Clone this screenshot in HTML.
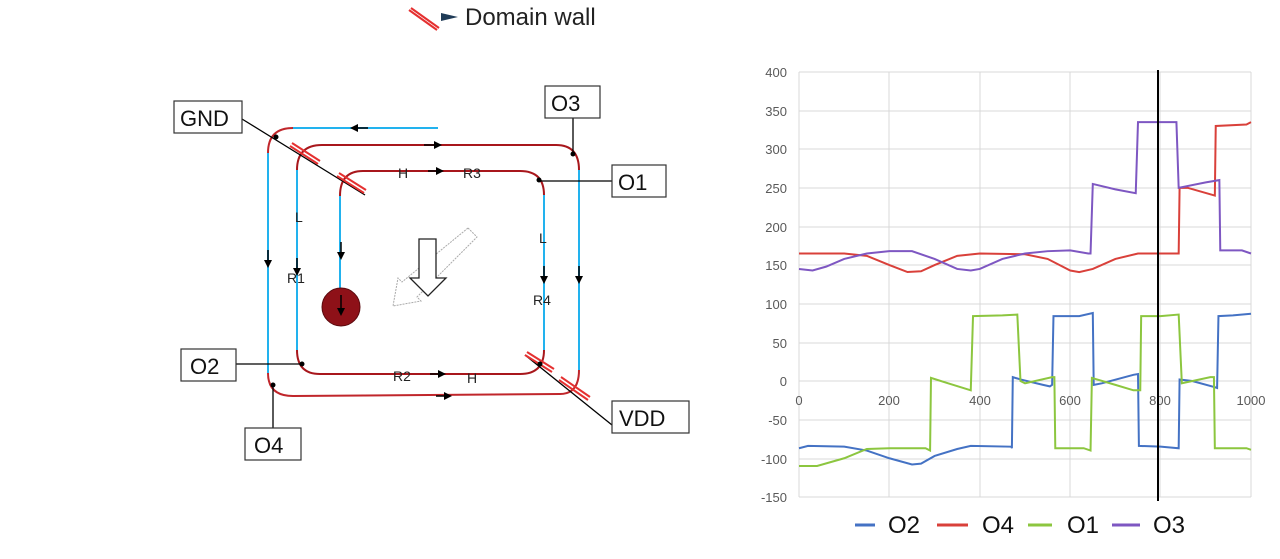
<!DOCTYPE html>
<html><head><meta charset="utf-8"><style>
body{margin:0;background:#fff;}
svg{display:block;font-family:"Liberation Sans",sans-serif;}
</style></head><body>
<svg width="1280" height="559" viewBox="0 0 1280 559">
<defs>
<marker id="ah" markerWidth="8" markerHeight="8" refX="4" refY="4" orient="auto" markerUnits="userSpaceOnUse"><path d="M0,0 L8,4 L0,8 z" fill="#000"/></marker>
</defs>
<line x1="409" y1="10" x2="437" y2="30" stroke="#e53030" stroke-width="2"/>
<line x1="411" y1="8" x2="439" y2="28" stroke="#e53030" stroke-width="2"/>
<path d="M441,13 L458,17 L441,21 z" fill="#1f3b57"/>
<text x="465" y="25" font-size="24" fill="#222">Domain wall</text>

<g fill="none" stroke-width="2">
<path d="M438,128 L293,128" stroke="#22b2ee"/>
<path d="M293,128 Q268,128 268,153" stroke="#c0262b"/>
<path d="M268,153 L268,373" stroke="#22b2ee"/>
<path d="M268,373 Q268,396 293,396 L560,394 Q579,394 579,370" stroke="#c0262b"/>
<path d="M579,370 L579,170" stroke="#22b2ee"/>
<path d="M579,170 Q579,145 556,145 L322,145 Q297,145 297,170" stroke="#a8171c"/>
<path d="M297,170 L297,350" stroke="#22b2ee"/>
<path d="M297,350 Q297,374 320,374 L520,374 Q544,374 544,350" stroke="#a8171c"/>
<path d="M544,350 L544,195" stroke="#22b2ee"/>
<path d="M544,195 Q544,171 520,171 L363,171 Q340,171 340,196" stroke="#a8171c"/>
<path d="M340,196 L340,288" stroke="#22b2ee"/>
</g>
<g stroke="#000" stroke-width="1.5" marker-end="url(#ah)">
<line x1="368" y1="128" x2="354" y2="128"/>
<line x1="268" y1="250" x2="268" y2="264"/>
<line x1="297" y1="258" x2="297" y2="272"/>
<line x1="341" y1="242" x2="341" y2="256"/>
<line x1="544" y1="266" x2="544" y2="280"/>
<line x1="579" y1="266" x2="579" y2="280"/>
<line x1="424" y1="145" x2="438" y2="145"/>
<line x1="428" y1="171" x2="440" y2="171"/>
<line x1="430" y1="374" x2="442" y2="374"/>
<line x1="436" y1="396" x2="448" y2="396"/>
</g>
<circle cx="341" cy="307" r="19" fill="#8e1118" stroke="#5a0a0e" stroke-width="1"/>
<line x1="341" y1="295" x2="341" y2="312" stroke="#000" stroke-width="1.5" marker-end="url(#ah)"/>
<path d="M468,228 L477,237 L417,297 L421,301 L393,306 L398,278 L402,282 Z" fill="none" stroke="#aaa" stroke-width="1" stroke-dasharray="2,1"/>
<path d="M419,239 L436,239 L436,278 L446,278 L428,296 L410,278 L419,278 Z" fill="#fff" stroke="#222" stroke-width="1.3"/>
<g font-size="14" fill="#222">
<text x="398" y="178">H</text><text x="463" y="178">R3</text>
<text x="295" y="222">L</text><text x="287" y="283">R1</text>
<text x="539" y="243">L</text><text x="533" y="305">R4</text>
<text x="393" y="381">R2</text><text x="467" y="383">H</text>
</g>
<g stroke="#000" stroke-width="1.3">
<line x1="242" y1="119" x2="365" y2="195"/>
<line x1="525" y1="355" x2="612" y2="425"/>
<line x1="573" y1="116" x2="573" y2="154"/>
<line x1="612" y1="181" x2="539" y2="181"/>
<line x1="236" y1="364" x2="302" y2="364"/>
<line x1="273" y1="428" x2="273" y2="385"/>
</g>
<g stroke="#e53030" stroke-width="2">
<line x1="290" y1="146" x2="318" y2="164"/><line x1="292" y1="143" x2="320" y2="161"/>
<line x1="337" y1="176" x2="364" y2="193"/><line x1="339" y1="173" x2="366" y2="190"/>
<line x1="525" y1="355" x2="552" y2="372"/><line x1="527" y1="352" x2="554" y2="369"/>
<line x1="559" y1="380" x2="588" y2="400"/><line x1="561" y1="377" x2="590" y2="397"/>
</g>
<g fill="#000">
<circle cx="276" cy="137" r="2.5"/><circle cx="573" cy="154" r="2.5"/><circle cx="539" cy="180" r="2.5"/>
<circle cx="302" cy="364" r="2.5"/><circle cx="273" cy="385" r="2.5"/><circle cx="540" cy="364" r="2.5"/>
</g>
<g fill="#fff" stroke="#333" stroke-width="1.2">
<rect x="174" y="101" width="68" height="32"/><rect x="545" y="86" width="55" height="32"/>
<rect x="612" y="165" width="54" height="32"/><rect x="181" y="349" width="55" height="32"/>
<rect x="245" y="428" width="56" height="32"/><rect x="612" y="401" width="77" height="32"/>
</g>
<g font-size="22" fill="#111">
<text x="180" y="126">GND</text><text x="551" y="111">O3</text><text x="618" y="190">O1</text>
<text x="190" y="374">O2</text><text x="254" y="453">O4</text><text x="619" y="426">VDD</text>
</g>

<g stroke="#d9d9d9" stroke-width="1">
<line x1="799" y1="72" x2="1251" y2="72"/><line x1="799" y1="111" x2="1251" y2="111"/>
<line x1="799" y1="149" x2="1251" y2="149"/><line x1="799" y1="188" x2="1251" y2="188"/>
<line x1="799" y1="227" x2="1251" y2="227"/><line x1="799" y1="265" x2="1251" y2="265"/>
<line x1="799" y1="304" x2="1251" y2="304"/><line x1="799" y1="343" x2="1251" y2="343"/>
<line x1="799" y1="381" x2="1251" y2="381"/><line x1="799" y1="420" x2="1251" y2="420"/>
<line x1="799" y1="459" x2="1251" y2="459"/><line x1="799" y1="497" x2="1251" y2="497"/>
<line x1="799" y1="72" x2="799" y2="497"/><line x1="889" y1="72" x2="889" y2="497"/>
<line x1="980" y1="72" x2="980" y2="497"/><line x1="1070" y1="72" x2="1070" y2="497"/>
<line x1="1160" y1="72" x2="1160" y2="497"/><line x1="1251" y1="72" x2="1251" y2="497"/>
</g>
<g font-size="13" fill="#595959" text-anchor="end">
<text x="787" y="77">400</text><text x="787" y="116">350</text><text x="787" y="154">300</text>
<text x="787" y="193">250</text><text x="787" y="232">200</text><text x="787" y="270">150</text>
<text x="787" y="309">100</text><text x="787" y="348">50</text><text x="787" y="386">0</text>
<text x="787" y="425">-50</text><text x="787" y="464">-100</text><text x="787" y="502">-150</text>
</g>
<g font-size="13" fill="#595959" text-anchor="middle">
<text x="799" y="405">0</text><text x="889" y="405">200</text><text x="980" y="405">400</text>
<text x="1070" y="405">600</text><text x="1160" y="405">800</text><text x="1251" y="405">1000</text>
</g>
<g transform="translate(799,381) scale(0.452,-0.7727)" fill="none" stroke-width="2">
<polyline vector-effect="non-scaling-stroke" stroke="#4472c4" points="0,-87 20,-84 100,-85 150,-90 200,-100 250,-108 270,-107 300,-97 350,-88 380,-84 470,-85 471,-87 473,5 490,2 540,-5 555,-7 560,-5 563,84 620,84 650,88 652,-5 670,-3 740,8 750,9 752,-84 800,-85 840,-87 842,2 870,0 920,-8 925,-9 928,84 960,85 1000,87"/>
<polyline vector-effect="non-scaling-stroke" stroke="#8cc63f" points="0,-110 40,-110 100,-100 150,-88 200,-87 280,-87 290,-90 292,4 330,-3 380,-12 385,84 450,85 483,86 490,0 500,-3 560,5 565,5 567,-87 630,-87 645,-90 648,4 700,-5 740,-12 755,-12 757,84 800,84 840,86 847,-3 910,5 918,5 920,-87 990,-87 1000,-89"/>
<polyline vector-effect="non-scaling-stroke" stroke="#d9403a" points="0,165 100,165 150,162 200,150 240,141 270,142 300,150 350,162 400,165 500,164 550,158 600,143 620,141 650,145 700,158 750,165 840,165 842,250 860,250 920,240 922,330 990,332 1000,335"/>
<polyline vector-effect="non-scaling-stroke" stroke="#7e57c2" points="0,145 30,143 60,148 100,158 150,165 200,168 250,168 300,158 350,145 380,143 400,145 450,158 500,165 550,168 600,169 640,165 645,165 650,255 700,248 745,243 750,335 830,335 835,335 840,250 900,257 930,260 932,169 980,169 1000,165"/>
</g>
<line x1="1158" y1="70" x2="1158" y2="501" stroke="#000" stroke-width="2"/>
<g stroke-width="3">
<line x1="855" y1="525" x2="875" y2="525" stroke="#4472c4"/>
<line x1="937" y1="525" x2="968" y2="525" stroke="#d9403a"/>
<line x1="1028" y1="525" x2="1052" y2="525" stroke="#8cc63f"/>
<line x1="1112" y1="525" x2="1140" y2="525" stroke="#7e57c2"/>
</g>
<g font-size="24" fill="#111">
<text x="888" y="533">O2</text><text x="982" y="533">O4</text>
<text x="1067" y="533">O1</text><text x="1153" y="533">O3</text>
</g>
</svg>
</body></html>
